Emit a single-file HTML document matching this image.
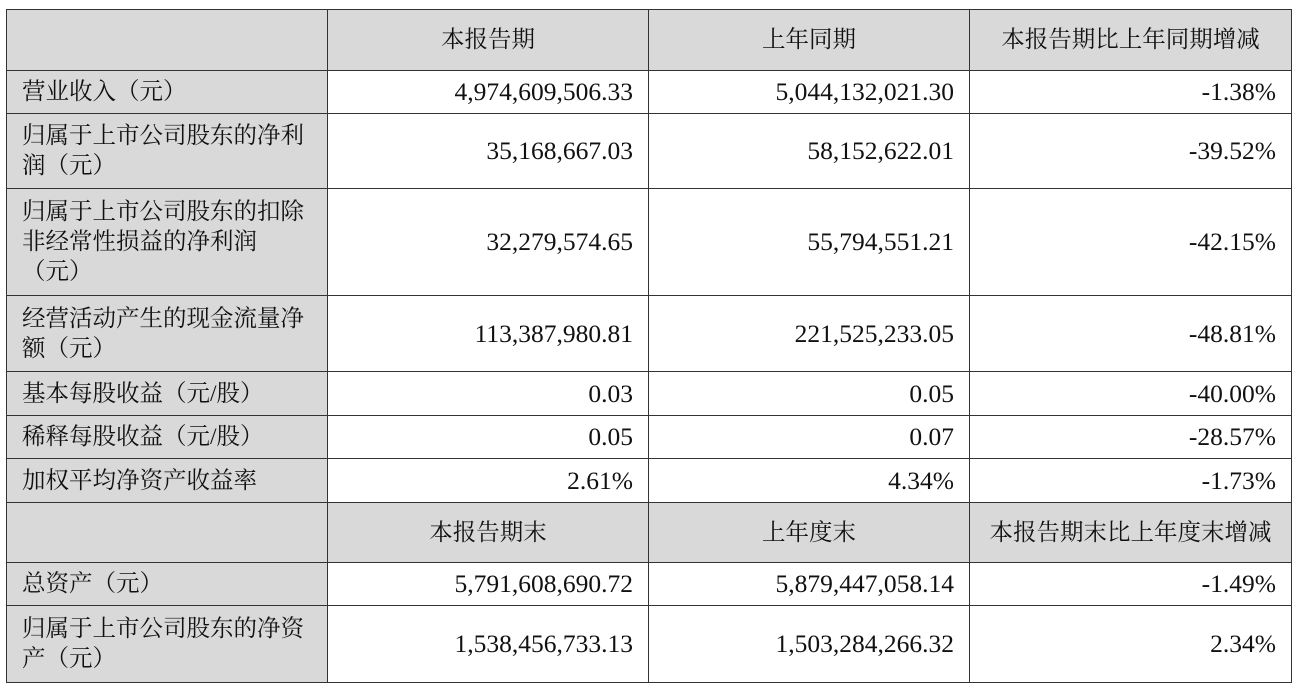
<!DOCTYPE html>
<html><head><meta charset="utf-8"><style>
body{margin:0;width:1304px;height:698px;background:#fff;position:relative;overflow:hidden;
font-family:"Liberation Serif","Noto Serif CJK SC",serif;font-size:23.5px;color:#111}
.c{position:absolute;box-sizing:border-box;border:1px solid #333;display:flex;align-items:center;line-height:30px}
.g{background:#d9d9d9}
.l{padding-left:15px;padding-right:4px}
.r{justify-content:flex-end;padding-right:15px;font-size:25.5px}
.m{justify-content:center}
</style></head><body>
<div id="t"></div>
<script>
const X=[6,327,648,969,1291];
const Y=[9,70,113,188,295,371,415,458,502,562,605,682];
const rows=[
 ["","本报告期","上年同期","本报告期比上年同期增减",1],
 ["营业收入（元）","4,974,609,506.33","5,044,132,021.30","-1.38%"],
 ["归属于上市公司股东的净利<br>润（元）","35,168,667.03","58,152,622.01","-39.52%"],
 ["归属于上市公司股东的扣除<br>非经常性损益的净利润<br>（元）","32,279,574.65","55,794,551.21","-42.15%"],
 ["经营活动产生的现金流量净<br>额（元）","113,387,980.81","221,525,233.05","-48.81%"],
 ["基本每股收益（元/股）","0.03","0.05","-40.00%"],
 ["稀释每股收益（元/股）","0.05","0.07","-28.57%"],
 ["加权平均净资产收益率","2.61%","4.34%","-1.73%"],
 ["","本报告期末","上年度末","本报告期末比上年度末增减",1],
 ["总资产（元）","5,791,608,690.72","5,879,447,058.14","-1.49%"],
 ["归属于上市公司股东的净资<br>产（元）","1,538,456,733.13","1,503,284,266.32","2.34%"]
];
let h="";
rows.forEach((r,i)=>{
 for(let j=0;j<4;j++){
  const hd=r[4];
  const cls="c "+((hd||j==0)?"g ":"")+(j==0?"l":(hd?"m":"r"));
  h+=`<div class="${cls}" style="left:${X[j]}px;top:${Y[i]}px;width:${X[j+1]-X[j]+1}px;height:${Y[i+1]-Y[i]+1}px"><div>${r[j]}</div></div>`;
 }
});
document.getElementById("t").innerHTML=h;
</script>
</body></html>
